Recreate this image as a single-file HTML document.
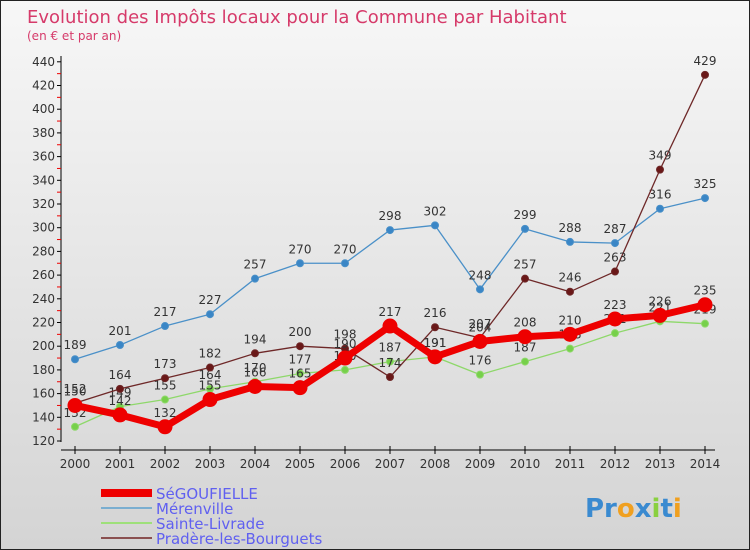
<!DOCTYPE html>
<html><head><meta charset="utf-8"><style>
body{margin:0}
#wrap{position:relative;width:748px;height:548px;border:1px solid #222;background:linear-gradient(#f7f7f7,#d4d4d4);font-family:"DejaVu Sans","Liberation Sans",sans-serif;overflow:hidden}
</style></head><body>
<div id="wrap">
<svg id="chart" width="748" height="548"></svg>
</div>
<script>
const years=[2000,2001,2002,2003,2004,2005,2006,2007,2008,2009,2010,2011,2012,2013,2014];
const segoufielle=[150,142,132,155,166,165,190,217,191,204,208,210,223,226,235];
const merenville=[189,201,217,227,257,270,270,298,302,248,299,288,287,316,325];
const sainteLivrade=[132,149,155,164,170,177,180,187,191,176,187,198,211,221,219];
const pradere=[152,164,173,182,194,200,198,174,216,207,257,246,263,349,429];
const yTicks=[120,140,160,180,200,220,240,260,280,300,320,340,360,380,400,420,440];
const NS="http://www.w3.org/2000/svg";
const svg=document.getElementById('chart');
const xs=i=>74+i*45;
const ys=v=>440-(v-120)*1.185;
function el(t,a,p){const e=document.createElementNS(NS,t);for(const k in a)e.setAttribute(k,a[k]);(p||svg).appendChild(e);return e;}
let t=el('text',{x:26,y:22,fill:'#d63a6a','font-size':18});t.textContent='Evolution des Impôts locaux pour la Commune par Habitant';


t=el('text',{x:26,y:39,fill:'#d63a6a','font-size':12});t.textContent='(en € et par an)';


let ax=el('line',{x1:60,y1:55,x2:60,y2:441,stroke:'#000'});


ax=el('line',{x1:60,y1:449,x2:714,y2:449,stroke:'#000'});


yTicks.forEach((v,i)=>{
 el('line',{x1:56,y1:ys(v),x2:60,y2:ys(v),stroke:'#000'});
 if(i<yTicks.length-1)el('line',{x1:56,y1:ys(v+10),x2:60,y2:ys(v+10),stroke:'#e00'});
 const l=el('text',{x:54,y:ys(v)+4,'text-anchor':'end','font-size':12,fill:'#333'});l.textContent=v;
 
 
});
years.forEach((y,i)=>{
 el('line',{x1:xs(i),y1:445,x2:xs(i),y2:453,stroke:'#000'});
 const l=el('text',{x:xs(i),y:467,'text-anchor':'middle','font-size':12,fill:'#333'});l.textContent=y;
 
 
});
function series(data,color,w,r,name,dot){
 const g=el('g',{});
 
 
 el('polyline',{points:data.map((v,i)=>xs(i)+','+ys(v)).join(' '),fill:'none',stroke:color,'stroke-width':w,'stroke-linejoin':'round'},g);
 data.forEach((v,i)=>{
  const c=el('circle',{cx:xs(i),cy:ys(v),r:r,fill:dot,stroke:color,'stroke-width':1},g);
  
  
  const l=el('text',{x:xs(i),y:ys(v)-10,'text-anchor':'middle','font-size':12,fill:'#333'},g);l.textContent=v;
  
  
 });
}
series(merenville,'#4a90c8',1.3,3.5,'merenville-series','#3a86c6');
series(sainteLivrade,'#8ed86a',1.3,3.5,'sainte-livrade-series','#76d04a');
series(pradere,'#6e2828',1.3,3.5,'pradere-series','#6a1818');
series(segoufielle,'#ee0000',7,7,'segoufielle-series','#ee0000');
const leg=[['SéGOUFIELLE','#ee0000',8],['Mérenville','#7aaed0',2],['Sainte-Livrade','#9ee07a',2],['Pradère-les-Bourguets','#8a5050',2]];
leg.forEach((d,i)=>{
 const g=el('g',{});
 
 
 const y=492+i*15;
 el('line',{x1:100,y1:y,x2:151,y2:y,stroke:d[1],'stroke-width':d[2]},g);
 const l=el('text',{x:155,y:y+6,'font-size':15,fill:'#6060f0'},g);l.textContent=d[0];
});
const lg=el('text',{x:584,y:516,'font-size':26,'font-weight':'bold',fill:'#3a8ad0'});
lg.innerHTML='Pr<tspan fill="#f0a020">o</tspan><tspan fill="#3a8ad0">x</tspan><tspan fill="#8ad040">i</tspan>t<tspan fill="#f0a020">i</tspan>';


</script>
</body></html>
